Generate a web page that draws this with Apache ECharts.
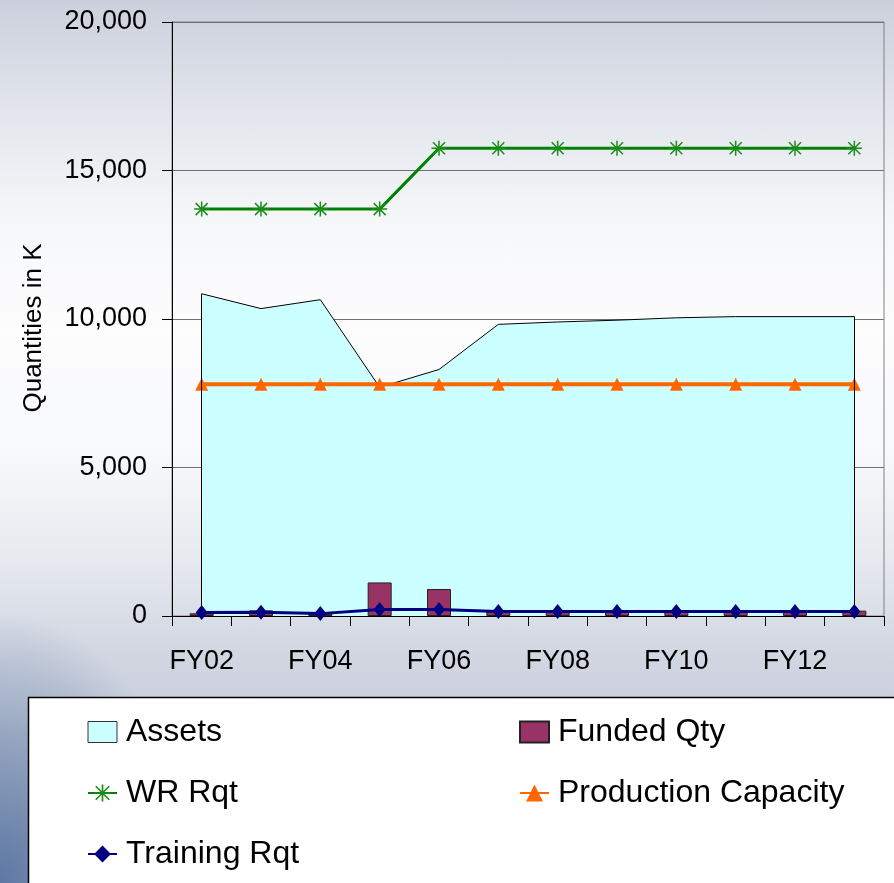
<!DOCTYPE html>
<html>
<head>
<meta charset="utf-8">
<script src="https://cdn.jsdelivr.net/npm/echarts@6/dist/echarts.min.js"></script>
<style>
  html, body { margin: 0; padding: 0; }
  #chart {
    width: 894px;
    height: 883px;
    background:
      radial-gradient(ellipse 190px 270px at 0% 100%, rgba(88,116,160,0.95), rgba(88,116,160,0) 100%),
      linear-gradient(to bottom, #cbd0dc 0px, #e2e5ec 110px, #f6f7f9 220px, #fdfdfe 330px, #f8f9fb 450px, #e6e9ef 560px, #d2d7e2 650px, #c3c9d7 760px, #b6bed0 883px);
  }
</style>
</head>
<body>
<div id="chart"></div>
<script>
const categories = ['FY02', 'FY03', 'FY04', 'FY05', 'FY06', 'FY07', 'FY08', 'FY09', 'FY10', 'FY11', 'FY12', 'FY13']
const assets = [10850, 10350, 10650, 7700, 8300, 9820, 9900, 9960, 10040, 10080, 10080, 10080]
const fundedQty = [90, 190, 90, 1130, 910, 150, 200, 200, 200, 200, 200, 180]
const wrRqt = [13700, 13700, 13700, 13700, 15750, 15750, 15750, 15750, 15750, 15750, 15750, 15750]
const productionCapacity = [7800, 7800, 7800, 7800, 7800, 7800, 7800, 7800, 7800, 7800, 7800, 7800]
const trainingRqt = [120, 130, 80, 220, 220, 150, 150, 150, 150, 150, 150, 150]

const font = '"Liberation Sans", Arial, sans-serif'
// asterisk marker (Excel style star)
const starPath = 'path://M9,0L11,0L11,20L9,20Z M0,9L20,9L20,11L0,11Z M1.3,2.7L2.7,1.3L18.7,17.3L17.3,18.7Z M17.3,1.3L18.7,2.7L2.7,18.7L1.3,17.3Z'

const chart = echarts.init(document.getElementById('chart'))

const legendText = { fontSize: 32, color: '#000', fontFamily: font, padding: [0, 0, 0, 4] }
const last = categories.length - 1

chart.setOption({
  backgroundColor: 'transparent',
  animation: false,
  graphic: [{
    type: 'rect',
    z: 0,
    shape: { x: 28.5, y: 697.5, width: 900, height: 300 },
    style: { fill: '#fff', stroke: '#000', lineWidth: 1.5 }
  }],
  legend: [{
    orient: 'vertical',
    left: 82,
    top: 711,
    itemWidth: 29,
    itemHeight: 21,
    itemGap: 29,
    textStyle: legendText,
    data: [
      { name: 'Assets', icon: 'rect', itemStyle: { color: '#CCFFFF', borderColor: '#333', borderWidth: 1 } },
      'WR Rqt',
      'Training Rqt'
    ]
  }, {
    orient: 'vertical',
    left: 514,
    top: 711,
    itemWidth: 29,
    itemHeight: 21,
    itemGap: 29,
    textStyle: legendText,
    data: [{ name: 'Funded Qty', icon: 'rect' }, 'Production Capacity']
  }],
  grid: {
    left: 172,
    right: 10,
    top: 22,
    bottom: 267,
    show: true,
    borderColor: '#808080',
    borderWidth: 1,
    backgroundColor: 'transparent'
  },
  xAxis: {
    type: 'category',
    data: categories,
    boundaryGap: true,
    axisLine: { lineStyle: { color: '#000', width: 1 } },
    axisTick: { show: true, interval: 0, length: 10, lineStyle: { color: '#000' } },
    axisLabel: { interval: 1, fontSize: 27, color: '#000', fontFamily: font, margin: 32 }
  },
  yAxis: {
    type: 'value',
    min: 0,
    max: 20000,
    interval: 5000,
    name: 'Quantities in K',
    nameLocation: 'middle',
    nameGap: 125,
    nameTextStyle: { fontSize: 26, color: '#000', fontFamily: font, padding: [0, 18, 0, 0] },
    axisLine: { show: true, lineStyle: { color: '#000', width: 1 } },
    axisTick: { show: true, length: 10, lineStyle: { color: '#000' } },
    axisLabel: {
      fontSize: 27,
      color: '#000',
      fontFamily: font,
      margin: 25,
      formatter: v => v.toLocaleString('en-US')
    },
    splitLine: { lineStyle: { color: '#707070', width: 1 } }
  },
  series: [{
    name: 'Assets',
    type: 'line',
    data: assets,
    symbol: 'none',
    z: 1,
    itemStyle: { color: '#CCFFFF' },
    lineStyle: { color: '#000', width: 1 },
    areaStyle: { color: '#CCFFFF', opacity: 1 },
    // closing edges of the area at both ends
    markLine: {
      silent: true,
      symbol: 'none',
      label: { show: false },
      lineStyle: { color: '#000', width: 1, type: 'solid' },
      data: [
        [{ coord: [categories[0], 0] }, { coord: [categories[0], assets[0]] }],
        [{ coord: [categories[last], 0] }, { coord: [categories[last], assets[last]] }]
      ]
    }
  }, {
    name: 'Funded Qty',
    type: 'bar',
    data: fundedQty,
    barWidth: 24,
    z: 3,
    itemStyle: { color: '#993366', borderColor: '#222', borderWidth: 1 }
  }, {
    name: 'WR Rqt',
    type: 'line',
    data: wrRqt,
    symbol: starPath,
    symbolSize: 15,
    z: 4,
    itemStyle: { color: '#1a8c1a' },
    lineStyle: { color: '#008000', width: 3 }
  }, {
    name: 'Production Capacity',
    type: 'line',
    data: productionCapacity,
    symbol: 'triangle',
    symbolSize: [13, 13],
    z: 4,
    itemStyle: { color: '#FF6600' },
    lineStyle: { color: '#FF6600', width: 4 }
  }, {
    name: 'Training Rqt',
    type: 'line',
    data: trainingRqt,
    symbol: 'diamond',
    symbolSize: [12, 15],
    z: 5,
    itemStyle: { color: '#000080' },
    lineStyle: { color: '#000080', width: 3 }
  }]
})
</script>
</body>
</html>
